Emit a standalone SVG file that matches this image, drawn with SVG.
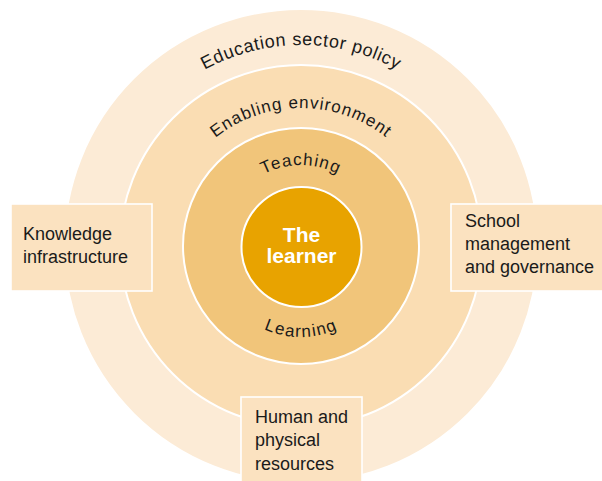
<svg xmlns="http://www.w3.org/2000/svg" width="602" height="481" viewBox="0 0 602 481">
<defs>
<style>
.ring{stroke:#fff;stroke-width:2}
.box{fill:#FBE2C0;stroke:#fff;stroke-width:1.6}
.lbl{font-family:"Liberation Sans Narrow","Liberation Sans",Arial,sans-serif;font-size:18px;fill:#1a1a1a}
.arc{font-family:"Liberation Sans Narrow","Liberation Sans",Arial,sans-serif;fill:#1a1a1a}
.center{font-family:"Liberation Sans Narrow","Liberation Sans",Arial,sans-serif;font-size:21px;font-weight:bold;fill:#fff}
</style>
<path id="pEdu" d="M100,246 A201,201 0 0 1 502,246"/>
<path id="pEna" d="M163,246 A138,138 0 0 1 439,246"/>
<path id="pTea" d="M220,246 A81,81 0 0 1 382,246"/>
<path id="pLea" d="M210,246 A91,91 0 0 0 392,246"/>
</defs>
<rect width="602" height="481" fill="#fff"/>
<g id="policy">
<circle class="ring" cx="301" cy="246" r="237" fill="#FCEBD6"/>
<text class="arc" font-size="18" letter-spacing="0.7"><textPath href="#pEdu" startOffset="50%" text-anchor="middle">Education sector policy</textPath></text>
</g>
<g id="enabling">
<circle class="ring" cx="301" cy="246" r="181" fill="#FADDB3"/>
<text class="arc" font-size="17" letter-spacing="1"><textPath href="#pEna" startOffset="50%" text-anchor="middle">Enabling environment</textPath></text>
</g>
<g id="teaching-learning">
<circle class="ring" cx="301" cy="246" r="118" fill="#F1C57A"/>
<text class="arc" font-size="17" letter-spacing="1.2"><textPath href="#pTea" startOffset="50%" text-anchor="middle">Teaching</textPath></text>
<text class="arc" font-size="17" letter-spacing="1.3"><textPath href="#pLea" startOffset="50%" text-anchor="middle">Learning</textPath></text>
</g>
<g id="learner">
<circle class="ring" cx="301.5" cy="247" r="60" fill="#E8A300"/>
<text class="center" x="301.5" y="242" text-anchor="middle">The</text>
<text class="center" x="301.5" y="263" text-anchor="middle">learner</text>
</g>
<g id="knowledge">
<rect class="box" x="11" y="204" width="141" height="87"/>
<text class="lbl" x="23" y="240">Knowledge</text>
<text class="lbl" x="23" y="263">infrastructure</text>
</g>
<g id="school">
<rect class="box" x="451" y="204" width="155" height="87"/>
<text class="lbl" x="465" y="227">School</text>
<text class="lbl" x="465" y="250">management</text>
<text class="lbl" x="465" y="273">and governance</text>
</g>
<g id="resources">
<rect class="box" x="241" y="397" width="121" height="88"/>
<text class="lbl" x="255" y="423">Human and</text>
<text class="lbl" x="255" y="446">physical</text>
<text class="lbl" x="255" y="470">resources</text>
</g>
<g id="connectors"/>
</svg>
